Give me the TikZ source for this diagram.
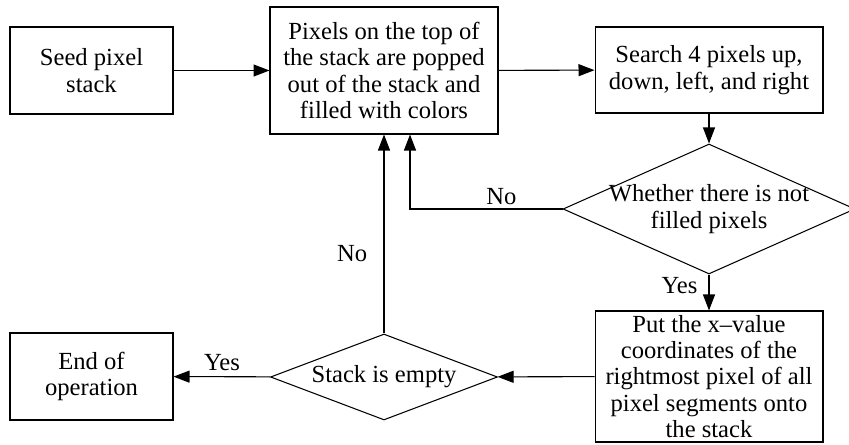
\documentclass[tikz,border=0pt]{standalone}
\usepackage{fontspec}
\setmainfont{Liberation Serif}
\usepackage{tikz}
\usetikzlibrary{arrows.meta,positioning,shapes.geometric,calc}

\begin{document}
\begin{tikzpicture}[x=0.02cm, y=-0.02cm,
    every node/.style={align=center, font=\fontsize{14}{15}\selectfont},
    box/.style={draw, line width=0.6pt, inner sep=1pt},
    decision/.style={draw, diamond, line width=0.6pt, inner sep=-8pt},
    flow/.style={line width=0.6pt, -{Triangle[length=0.32cm, width=0.24cm]}}]

  \useasboundingbox (0,0) rectangle (849,445);

  % top row
  \node[box, minimum width=3.26cm, minimum height=1.74cm] (seed) at (91.5,70.5) {Seed pixel\\stack};
  \node[box, minimum width=4.56cm, minimum height=2.54cm] (pop) at (384,70.5) {Pixels on the top of\\the stack are popped\\out of the stack and\\filled with colors};
  \node[box, minimum width=4.56cm, minimum height=1.72cm] (search) at (709,70) {Search 4 pixels up,\\down, left, and right};

  % checks
  \node[decision, aspect=2.25, minimum width=5.84cm, minimum height=2.6cm] (filled) at (709,209) {Whether there is not\\filled pixels};
  \node[box, minimum width=4.56cm, minimum height=2.62cm] (push) at (709,376.5) {Put the x–value\\coordinates of the\\rightmost pixel of all\\pixel segments onto\\the stack};
  \node[decision, aspect=2.65, minimum width=4.54cm, minimum height=1.72cm] (empty) at (384,377) {Stack is empty};
  \node[box, minimum width=3.26cm, minimum height=1.74cm] (stop) at (91.5,376.5) {End of\\operation};

  \coordinate (nobend) at (410,209);

  \draw[flow] (seed) -- (pop);
  \draw[flow] (pop) -- (search);
  \draw[flow] (search) -- (filled);
  \draw[flow] (filled) -- node[left=3pt, pos=0.3] {Yes} (push);
  \draw[flow] (push) -- (empty);
  \draw[flow] (empty) -- node[above] {Yes} (stop);
  \draw[flow] (empty) -- node[left=6pt, pos=0.4] {No} (pop);
  \draw[flow] (filled.west) -- node[above=-1pt, pos=0.4] {No} (nobend) -- (nobend |- pop.south);

\end{tikzpicture}
\end{document}
